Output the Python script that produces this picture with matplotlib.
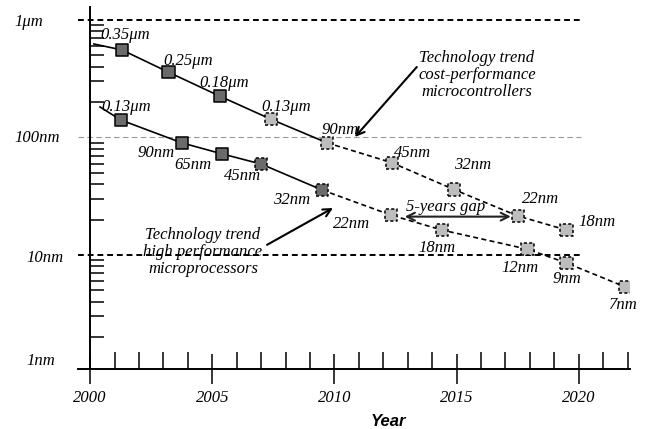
import numpy as np
import matplotlib
matplotlib.use("Agg")
import matplotlib.pyplot as plt
from matplotlib.ticker import LogLocator, NullFormatter, FixedLocator

# feature-size trends (nm)
mc_years = [2001.3, 2003.2, 2005.3, 2007.4, 2009.7, 2012.35, 2014.9, 2017.5, 2019.5]
mc_size = [556, 360, 225, 143, 90, 61, 36, 21.5, 16.3]
mc_labels = ["0.35μm", "0.25μm", "0.18μm", "0.13μm", "90nm", "45nm", "32nm", "22nm", "18nm"]
mc_light = [False, False, False, True, True, True, True, True, True]
mc_dashed = [False, False, False, True, True, True, True, True, True]
mc_solid_to = 4          # solid trend line up to 90nm
mc_start = (2000.15, 625)

mp_years = [2001.25, 2003.75, 2005.4, 2007.0, 2009.5, 2012.3, 2014.4, 2017.9, 2019.5, 2021.9]
mp_size = [141, 90, 72.5, 59.4, 35.7, 21.9, 16.3, 11.2, 8.55, 5.35]
mp_labels = ["0.13μm", "90nm", "65nm", "45nm", "32nm", "22nm", "18nm", "12nm", "9nm", "7nm"]
mp_light = [False, False, False, False, False, True, True, True, True, True]
mp_dashed = [False, False, False, True, True, True, True, True, True, True]
mp_solid_to = 4          # solid trend line up to 32nm
mp_start = (2000.4, 182)

year_ticks = [2000, 2005, 2010, 2015, 2020]
size_ticks = [1000, 100, 10, 1]
size_tick_labels = ["1μm", "100nm", "10nm", "1nm"]

# label offsets in pixels relative to each marker
mc_off = [(3, 15), (20, 11), (5, 13), (15, 12), (13, 13), (21, 10), (18, 25), (23, 17), (30, 8)]
mp_off = [(5, 13), (-26, -10), (-29, -11), (-19, -12), (-31, -10), (-39, -9),
          (-5, -18), (-7, -19), (0, -16), (-3, -18)]
ylab_off = [(-49, -2), (-41, -1), (-33, -3), (-37, 11)]

plt.rcParams['font.family'] = ['Liberation Serif', 'DejaVu Serif']
plt.rcParams['font.style'] = 'italic'
plt.rcParams['font.size'] = 12

DARK = '#6b6b6b'
LIGHT = '#bdbdbd'

fig = plt.figure(figsize=(6.47, 4.29), dpi=100)
ax = fig.add_axes([78/647, 1 - 369/429, (630 - 78)/647, (369 - 7)/429])
ax.set_yscale('log')
ax.set_xlim(1999.5, 2022.1)
ax.set_ylim(1.07, 1290)

# horizontal reference lines
ax.plot([1999.5, 2020.1], [1000, 1000], color='black', lw=1.4, ls=(0, (3, 2)))
ax.plot([1999.5, 2020.1], [100, 100], color='#999999', lw=0.8, ls=(0, (5, 3)))
ax.plot([1999.5, 2020.1], [10, 10], color='black', lw=1.4, ls=(0, (3, 2)))


def trend(years, sizes, light, dashed, solid_to, start, labels, offs):
    sx = [start[0]] + years[:solid_to + 1]
    sy = [start[1]] + sizes[:solid_to + 1]
    ax.plot(sx, sy, color='black', lw=1.2, zorder=2)
    ax.plot(years[solid_to:], sizes[solid_to:], color='black', lw=1.2,
            ls=(0, (3, 2)), zorder=2)
    colors = [LIGHT if l else DARK for l in light]
    styles = [(0, (2, 1.5)) if d else 'solid' for d in dashed]
    ax.scatter(years, sizes, s=78, marker='s', c=colors, edgecolors='black',
               linewidths=1.1, linestyles=styles, zorder=3)
    for x, y, t, o in zip(years, sizes, labels, offs):
        ax.annotate(t, (x, y), xytext=o, textcoords='offset pixels',
                    ha='center', va='center')


trend(mc_years, mc_size, mc_light, mc_dashed, mc_solid_to, mc_start, mc_labels, mc_off)
trend(mp_years, mp_size, mp_light, mp_dashed, mp_solid_to, mp_start, mp_labels, mp_off)

# annotations
ax.text(2015.83, 340, "Technology trend\ncost-performance\nmicrocontrollers",
        ha='center', va='center', linespacing=1.05)
ax.annotate('', xy=(2010.84, 101), xytext=(2013.37, 398),
            arrowprops=dict(arrowstyle='->', lw=1.5, color='black',
                            shrinkA=0, shrinkB=0, mutation_scale=14))
ax.text(2004.62, 10.6, "Technology trend\nhigh performance\nmicroprocessors",
        ha='center', va='center', linespacing=1.05)
ax.annotate('', xy=(2009.94, 25.1), xytext=(2007.24, 12.2),
            arrowprops=dict(arrowstyle='->', lw=1.5, color='black',
                            shrinkA=0, shrinkB=0, mutation_scale=14))
ax.text(2014.56, 25.6, "5-years gap", ha='center', va='center')
ax.annotate('', xy=(2017.22, 21.2), xytext=(2012.88, 21.2),
            arrowprops=dict(arrowstyle='<->', lw=1.5, color='#222222',
                            shrinkA=0, shrinkB=0, mutation_scale=14))

# axes styling
for s in ['top', 'right']:
    ax.spines[s].set_visible(False)
ax.spines['left'].set_position(('data', 2000))
ax.spines['left'].set_linewidth(1.4)
ax.spines['bottom'].set_linewidth(1.4)

ax.xaxis.set_major_locator(FixedLocator(year_ticks))
ax.xaxis.set_minor_locator(FixedLocator(range(2001, 2023)))
ax.set_xticklabels([str(y) for y in year_ticks])
ax.tick_params(axis='x', which='major', direction='inout', length=22, width=1.1, pad=4)
ax.tick_params(axis='x', which='minor', direction='in', length=12, width=1.1)

ax.yaxis.set_major_locator(FixedLocator(size_ticks))
ax.yaxis.set_minor_locator(LogLocator(base=10, subs=np.arange(2, 10)))
ax.yaxis.set_minor_formatter(NullFormatter())
ax.set_yticklabels([])
ax.tick_params(axis='y', which='major', length=0)
ax.tick_params(axis='y', which='minor', direction='in', length=10, width=1.1)

for v, t, o in zip(size_ticks, size_tick_labels, ylab_off):
    ax.annotate(t, (0, v), xycoords=('axes fraction', 'data'), xytext=o,
                textcoords='offset pixels', ha='center', va='center',
                annotation_clip=False)

ax.set_xlabel("Year", family='Liberation Sans', weight='bold', style='italic', fontsize=12)
ax.xaxis.set_label_coords((388 - 78) / 552, -0.125)

fig.savefig('out.png', dpi=100)
